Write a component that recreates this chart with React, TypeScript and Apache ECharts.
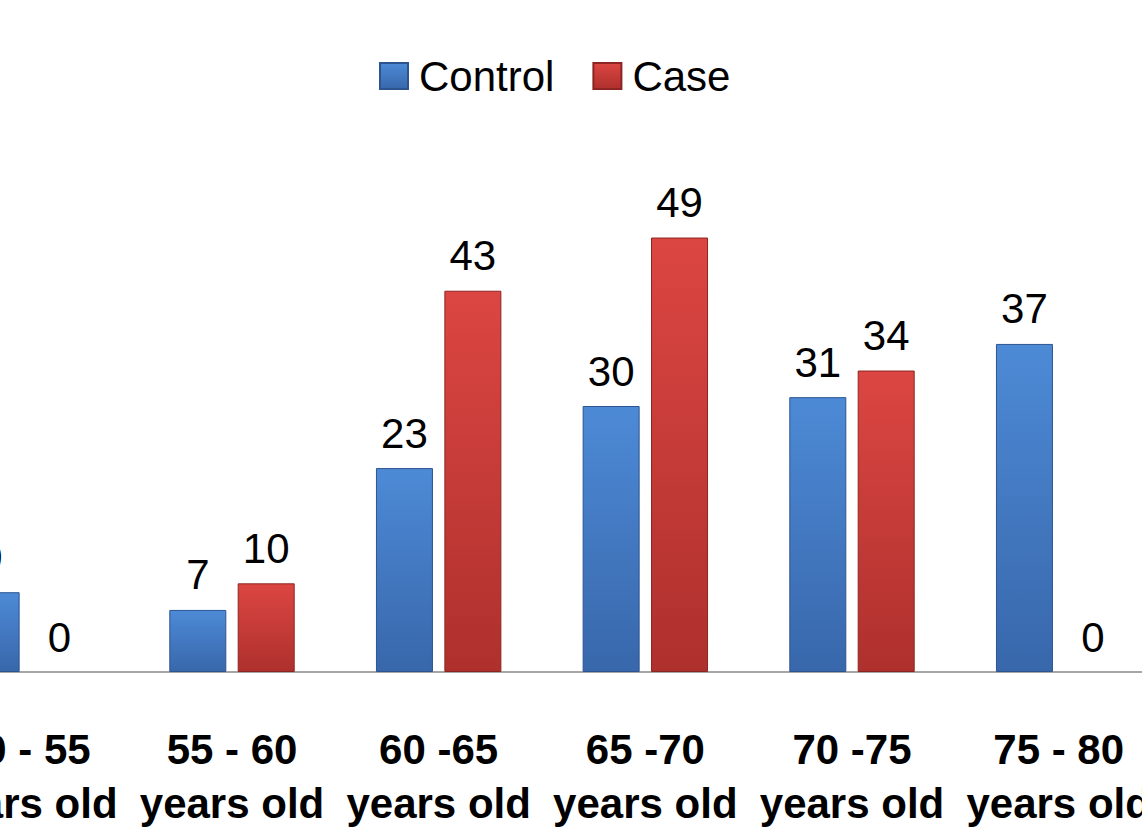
import React, { useEffect, useRef } from "react";
import * as echarts from "echarts";

const categories = [
  "50 - 55\nyears old",
  "55 - 60\nyears old",
  "60 -65\nyears old",
  "65 -70\nyears old",
  "70 -75\nyears old",
  "75 - 80\nyears old",
];
const controlValues = [9, 7, 23, 30, 31, 37];
const caseValues = [0, 10, 43, 49, 34, 0];
const seriesNames = ["Control", "Case"];

const FONT = "'Liberation Sans', Arial, sans-serif";

function grad(top: string, bottom: string) {
  return new echarts.graphic.LinearGradient(0, 0, 0, 1, [
    { offset: 0, color: top },
    { offset: 1, color: bottom },
  ]);
}

function toItems(values: number[]) {
  return values.map((v) =>
    v === 0
      ? { value: v, itemStyle: { borderWidth: 0, color: "rgba(0,0,0,0)" } }
      : { value: v }
  );
}

export default function App() {
  const ref = useRef<HTMLDivElement>(null);
  useEffect(() => {
    if (!ref.current) return;
    const chart = echarts.init(ref.current, undefined, { renderer: "svg" });
    const labelStyle = {
      show: true,
      position: "top" as const,
      distance: 14,
      fontFamily: FONT,
      fontSize: 42,
      color: "#000",
    };
    chart.setOption({
      animation: false,
      backgroundColor: "#fff",
      legend: {
        left: 452,
        top: 50,
        itemWidth: 28,
        itemHeight: 26,
        itemGap: 38,
        icon: "rect",
        textStyle: {
          fontFamily: FONT,
          fontSize: 42,
          color: "#000",
          padding: [0, 0, 0, 6],
        },
        data: seriesNames,
      },
      grid: { left: 0, right: 0, top: 140, bottom: 158, containLabel: false },
      xAxis: {
        type: "category",
        data: categories,
        axisLine: { lineStyle: { color: "#a6a6a6", width: 2 } },
        axisTick: { show: false },
        axisLabel: {
          fontFamily: FONT,
          fontWeight: "bold",
          fontSize: 42,
          lineHeight: 54,
          color: "#000",
          margin: 50,
          interval: 0,
        },
      },
      yAxis: {
        type: "value",
        min: 0,
        max: 60,
        show: false,
        splitLine: { show: false },
      },
      series: [
        {
          name: seriesNames[0],
          type: "bar",
          data: toItems(controlValues),
          barWidth: 57,
          barGap: "20%",
          itemStyle: {
            color: grad("#4d8ad6", "#3867ab"),
            borderColor: "#2c5590",
            borderWidth: 1,
          },
          label: labelStyle,
        },
        {
          name: seriesNames[1],
          type: "bar",
          data: toItems(caseValues),
          barWidth: 57,
          barGap: "20%",
          itemStyle: {
            color: grad("#dc4642", "#ae302d"),
            borderColor: "#8c2522",
            borderWidth: 1,
          },
          label: labelStyle,
        },
      ],
    });
    return () => chart.dispose();
  }, []);
  return (
    <div
      style={{
        position: "fixed",
        left: 0,
        top: 0,
        width: 1142,
        height: 830,
        overflow: "hidden",
        background: "#fff",
      }}
    >
      <div
        ref={ref}
        style={{ position: "absolute", left: -78, top: 0, width: 1240, height: 830 }}
      />
    </div>
  );
}
